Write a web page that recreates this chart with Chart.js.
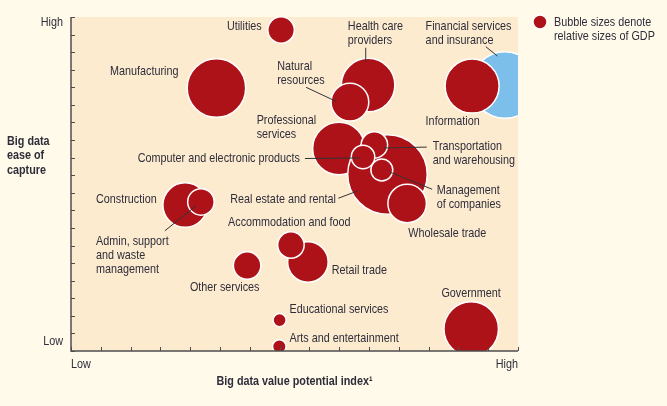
<!DOCTYPE html>
<html>
<head>
<meta charset="utf-8">
<script src="https://cdn.jsdelivr.net/npm/chart.js@4"></script>
<style>
  html, body { margin: 0; padding: 0; background: #fffaea; }
  #wrap { width: 667px; height: 406px; position: relative; }
</style>
</head>
<body>
<div id="wrap"><canvas id="chart"></canvas></div>
<script>
// Sectors in drawing order (later ones sit on top of earlier ones)
const sectors = [
    'Financial services and insurance', 'Information', 'Utilities', 'Manufacturing',
    'Health care providers', 'Natural resources', 'Professional services',
    'Real estate and rental', 'Transportation and warehousing',
    'Computer and electronic products', 'Management of companies', 'Wholesale trade',
    'Construction', 'Admin, support and waste management', 'Retail trade',
    'Accommodation and food', 'Other services', 'Educational services',
    'Arts and entertainment', 'Government'
];
// Big data value potential index (x), on a 0-15 scale
const valuePotential = [14.56, 13.46, 7.05, 4.88, 9.97, 9.36, 8.99, 10.62, 10.18, 9.80,
    10.43, 11.28, 3.83, 4.36, 7.95, 7.38, 5.91, 7.00, 6.99, 13.43];
// Big data ease of capture (y), on a 0-19 scale
const easeOfCapture = [15.13, 15.07, 18.26, 14.96, 15.13, 14.16, 11.52, 10.04, 11.72, 11.04,
    10.30, 8.39, 8.30, 8.48, 5.06, 6.03, 4.86, 1.76, 0.26, 1.25];
// Relative size of GDP (bubble area)
const gdpSize = [123, 81, 19.5, 95, 79.5, 39.5, 76.6, 175.6, 19.5, 15.3,
    13.3, 41.2, 55, 19.5, 45.6, 19.5, 21, 4.8, 5.1, 82.5];
const highlighted = ['Financial services and insurance'];
const xTickLabels = ['Low', 'High'];
const yTickLabels = ['Low', 'High'];

// Where each sector's label goes, in axis units
const labelLayout = [
    { lines: ['Financial services', 'and insurance'], x: 11.90, y: 18.49, align: 'left', leader: [13.92, 17.31, 14.31, 16.78] },
    { lines: ['Information'], x: 11.90, y: 13.04, align: 'left' },
    { lines: ['Utilities'], x: 6.40, y: 18.49, align: 'right' },
    { lines: ['Manufacturing'], x: 1.31, y: 15.93, align: 'left' },
    { lines: ['Health care', 'providers'], x: 9.29, y: 18.49, align: 'left', leader: [9.89, 17.25, 9.89, 16.45] },
    { lines: ['Natural', 'resources'], x: 6.92, y: 16.21, align: 'left', leader: [7.89, 15.0, 8.92, 14.18] },
    { lines: ['Professional', 'services'], x: 6.23, y: 13.14, align: 'left' },
    { lines: ['Real estate and rental'], x: 8.89, y: 8.65, align: 'right', leader: [8.97, 8.69, 9.61, 9.10] },
    { lines: ['Transportation', 'and warehousing'], x: 12.14, y: 11.62, align: 'left', leader: [11.94, 11.60, 10.51, 11.55] },
    { lines: ['Computer and electronic products'], x: 7.68, y: 10.94, align: 'right', leader: [7.85, 10.95, 9.70, 10.98] },
    { lines: ['Management', 'of companies'], x: 12.27, y: 9.12, align: 'left', leader: [12.12, 9.20, 10.73, 10.16] },
    { lines: ['Wholesale trade'], x: 11.32, y: 6.70, align: 'left' },
    { lines: ['Construction'], x: 0.84, y: 8.63, align: 'left' },
    { lines: ['Admin, support', 'and waste', 'management'], x: 0.84, y: 6.26, align: 'left', leader: [3.15, 6.84, 4.19, 8.25] },
    { lines: ['Retail trade'], x: 8.75, y: 4.57, align: 'left' },
    { lines: ['Accommodation and food'], x: 5.27, y: 7.30, align: 'left' },
    { lines: ['Other services'], x: 3.99, y: 3.60, align: 'left' },
    { lines: ['Educational services'], x: 7.33, y: 2.37, align: 'left' },
    { lines: ['Arts and entertainment'], x: 7.33, y: 0.72, align: 'left' },
    { lines: ['Government'], x: 12.43, y: 3.26, align: 'left' }
];

const RED = '#ad1219';
const BLUE = '#7bbfea';
const TEXT = '#2e2d3a';
const FONT = '"Liberation Sans", Arial, sans-serif';
const NARROW = 0.8; // squeeze text to look like a condensed face

const points = sectors.map((name, i) => ({
    x: valuePotential[i],
    y: easeOfCapture[i],
    r: Math.sqrt(gdpSize[i]) * 3
}));
const colors = sectors.map(name => highlighted.includes(name) ? BLUE : RED);

function drawText(ctx, text, x, y, align) {
    ctx.save();
    ctx.translate(x, y);
    ctx.scale(NARROW, 1);
    ctx.textAlign = align;
    ctx.fillText(text, 0, 0);
    ctx.restore();
}

const chartFrame = {
    id: 'chartFrame',
    beforeDatasetsDraw(chart) {
        const { ctx, chartArea: a } = chart;
        ctx.save();
        ctx.fillStyle = '#fdebd0';
        ctx.fillRect(a.left, a.top, a.right - a.left, a.bottom - a.top);
        ctx.restore();
    },
    afterDatasetsDraw(chart) {
        const { ctx, chartArea: a } = chart;
        const xs = chart.scales.x;
        const ys = chart.scales.y;
        ctx.save();

        // Leader lines
        ctx.strokeStyle = '#333';
        ctx.lineWidth = 1;
        labelLayout.forEach(l => {
            if (!l.leader) return;
            ctx.beginPath();
            ctx.moveTo(xs.getPixelForValue(l.leader[0]), ys.getPixelForValue(l.leader[1]));
            ctx.lineTo(xs.getPixelForValue(l.leader[2]), ys.getPixelForValue(l.leader[3]));
            ctx.stroke();
        });

        // Sector labels
        ctx.fillStyle = TEXT;
        ctx.font = '13.5px ' + FONT;
        ctx.textBaseline = 'middle';
        labelLayout.forEach(l => {
            const px = xs.getPixelForValue(l.x);
            const py = ys.getPixelForValue(l.y);
            l.lines.forEach((t, k) => drawText(ctx, t, px, py + k * 14, l.align));
        });

        // Axes with inward ticks
        ctx.strokeStyle = '#4d4d4d';
        ctx.lineWidth = 1.5;
        ctx.beginPath();
        ctx.moveTo(a.left, a.top);
        ctx.lineTo(a.left, a.bottom);
        ctx.lineTo(a.right, a.bottom);
        ctx.stroke();
        ctx.lineWidth = 1;
        ctx.beginPath();
        for (let v = xs.min; v <= xs.max; v++) {
            const px = Math.round(xs.getPixelForValue(v)) + 0.5;
            ctx.moveTo(px, a.bottom);
            ctx.lineTo(px, a.bottom - 4);
        }
        for (let v = ys.min; v <= ys.max; v++) {
            const py = Math.round(ys.getPixelForValue(v)) + 0.5;
            ctx.moveTo(a.left, py);
            ctx.lineTo(a.left + 4, py);
        }
        ctx.stroke();

        // Low / High tick labels
        drawText(ctx, yTickLabels[1], a.left - 8, ys.getPixelForValue(ys.max) + 5, 'right');
        drawText(ctx, yTickLabels[0], a.left - 8, ys.getPixelForValue(ys.min) - 10, 'right');
        drawText(ctx, xTickLabels[0], xs.getPixelForValue(xs.min), a.bottom + 13, 'left');
        drawText(ctx, xTickLabels[1], xs.getPixelForValue(xs.max), a.bottom + 13, 'right');

        // Axis titles
        ctx.font = 'bold 13.5px ' + FONT;
        drawText(ctx, 'Big data value potential index\u00b9', (a.left + a.right) / 2, a.bottom + 30, 'center');
        ['Big data', 'ease of', 'capture'].forEach((t, k) => drawText(ctx, t, 7, a.top + 124 + k * 14.5, 'left'));

        // Bubble size key
        ctx.beginPath();
        ctx.arc(a.right + 22, a.top + 5, 7, 0, Math.PI * 2);
        ctx.fillStyle = RED;
        ctx.fill();
        ctx.strokeStyle = '#fff';
        ctx.lineWidth = 1.5;
        ctx.stroke();
        ctx.fillStyle = TEXT;
        ctx.font = '13.5px ' + FONT;
        drawText(ctx, 'Bubble sizes denote', a.right + 36, a.top + 5, 'left');
        drawText(ctx, 'relative sizes of GDP', a.right + 36, a.top + 19, 'left');

        ctx.restore();
    }
};

new Chart(document.getElementById('chart'), {
    type: 'bubble',
    data: {
        datasets: [{
            data: points,
            backgroundColor: colors,
            borderColor: '#ffffff',
            borderWidth: 1.5,
            hoverRadius: 0,
            clip: 0
        }]
    },
    options: {
        responsive: true,
        maintainAspectRatio: false,
        animation: false,
        events: [],
        layout: { autoPadding: false, padding: { left: 71, top: 17, right: 149, bottom: 55 } },
        plugins: {
            legend: { display: false },
            tooltip: { enabled: false }
        },
        scales: {
            x: {
                type: 'linear', min: 0, max: 15,
                ticks: { display: false },
                grid: { display: false, drawTicks: false },
                border: { display: false }
            },
            y: {
                type: 'linear', min: 0, max: 19,
                ticks: { display: false },
                grid: { display: false, drawTicks: false },
                border: { display: false }
            }
        }
    },
    plugins: [chartFrame]
});
</script>
</body>
</html>
